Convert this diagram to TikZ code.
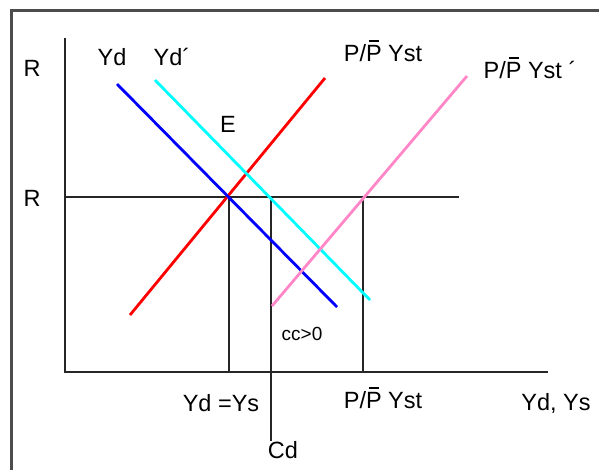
\documentclass[tikz,border=0pt]{standalone}
\usepackage{fontspec}
\setmainfont{Liberation Sans}
\newcommand{\myPbar}{\setbox0\hbox{P}\rlap{\hbox to\wd0{\hss\rule[0.84em]{0.42em}{0.075em}\hss}}P}
\begin{document}
\begin{tikzpicture}[x=1pt,y=-1pt,
  lbl/.style={inner sep=0pt,font=\fontsize{23.5}{26}\selectfont},
  small/.style={inner sep=0pt,font=\fontsize{19}{22}\selectfont},
  axis/.style={line width=1.7pt,black!85},
  curve/.style={line width=2.8pt}]
\definecolor{mycyan}{RGB}{0,255,255}
\definecolor{mypink}{RGB}{255,135,200}
\definecolor{myred}{RGB}{255,0,0}
\definecolor{myblue}{RGB}{0,0,255}
\useasboundingbox (0,0) rectangle (599,469);
\clip (0,0) rectangle (599,469);
\fill[white] (0,0) rectangle (599,469);
\draw[line width=3pt,black!70] (11,10) rectangle (620,490);
% axes
\coordinate (ytop) at (65,38);
\coordinate (O) at (65,372);
\coordinate (xend) at (548,372);
\draw[axis] (ytop) -- (O) -- (xend);
% R line
\coordinate (Rl) at (65,197);
\coordinate (Rr) at (459,197);
\draw[axis] (Rl) -- (Rr);
% verticals
\coordinate (E0) at (229,197);
\coordinate (E0b) at (229,372);
\coordinate (C0) at (271,197);
\coordinate (S0) at (363,197);
\coordinate (S0b) at (363,372);
\node[lbl] (lCd) at (283,450) {Cd};
\draw[axis] (E0) -- (E0b);
\draw[axis] (C0) -- (C0 |- lCd.north);
\draw[axis] (S0) -- (S0b);
% curves
\coordinate (b1) at (117,84); \coordinate (b2) at (337,307);
\coordinate (c1) at (155,80); \coordinate (c2) at (370,300);
\coordinate (r1) at (130,315); \coordinate (r2) at (325,78);
\coordinate (p1) at (272,306); \coordinate (p2) at (467,76);
\draw[curve,color=myred] (r1) -- (r2);
\draw[curve,color=mycyan] (c1) -- (c2);
\draw[curve,color=myblue] (b1) -- (b2);
\draw[curve,color=mypink] (p1) -- (p2);
% labels
\node[lbl] (lR1) at (32,68) {R};
\node[lbl] (lR2) at (32,198) {R};
\node[lbl] (lYd) at (112,57) {Yd};
\node[lbl] (lYdp) at (172,57) {Yd´};
\node[lbl] (lS1) at (383,51) {P/\myPbar\ Yst};
\node[lbl] (lS2) at (530,68) {P/\myPbar\ Yst ´};
\node[lbl] (lE) at (228,124) {E};
\node[small] (lcc) at (302,334) {cc>0};
\node[lbl] (lYdYs) at (221,403) {Yd =Ys};
\node[lbl] (lS3) at (383,398) {P/\myPbar\ Yst};
\node[lbl] (lax) at (556,403) {Yd, Ys};
\end{tikzpicture}
\end{document}
